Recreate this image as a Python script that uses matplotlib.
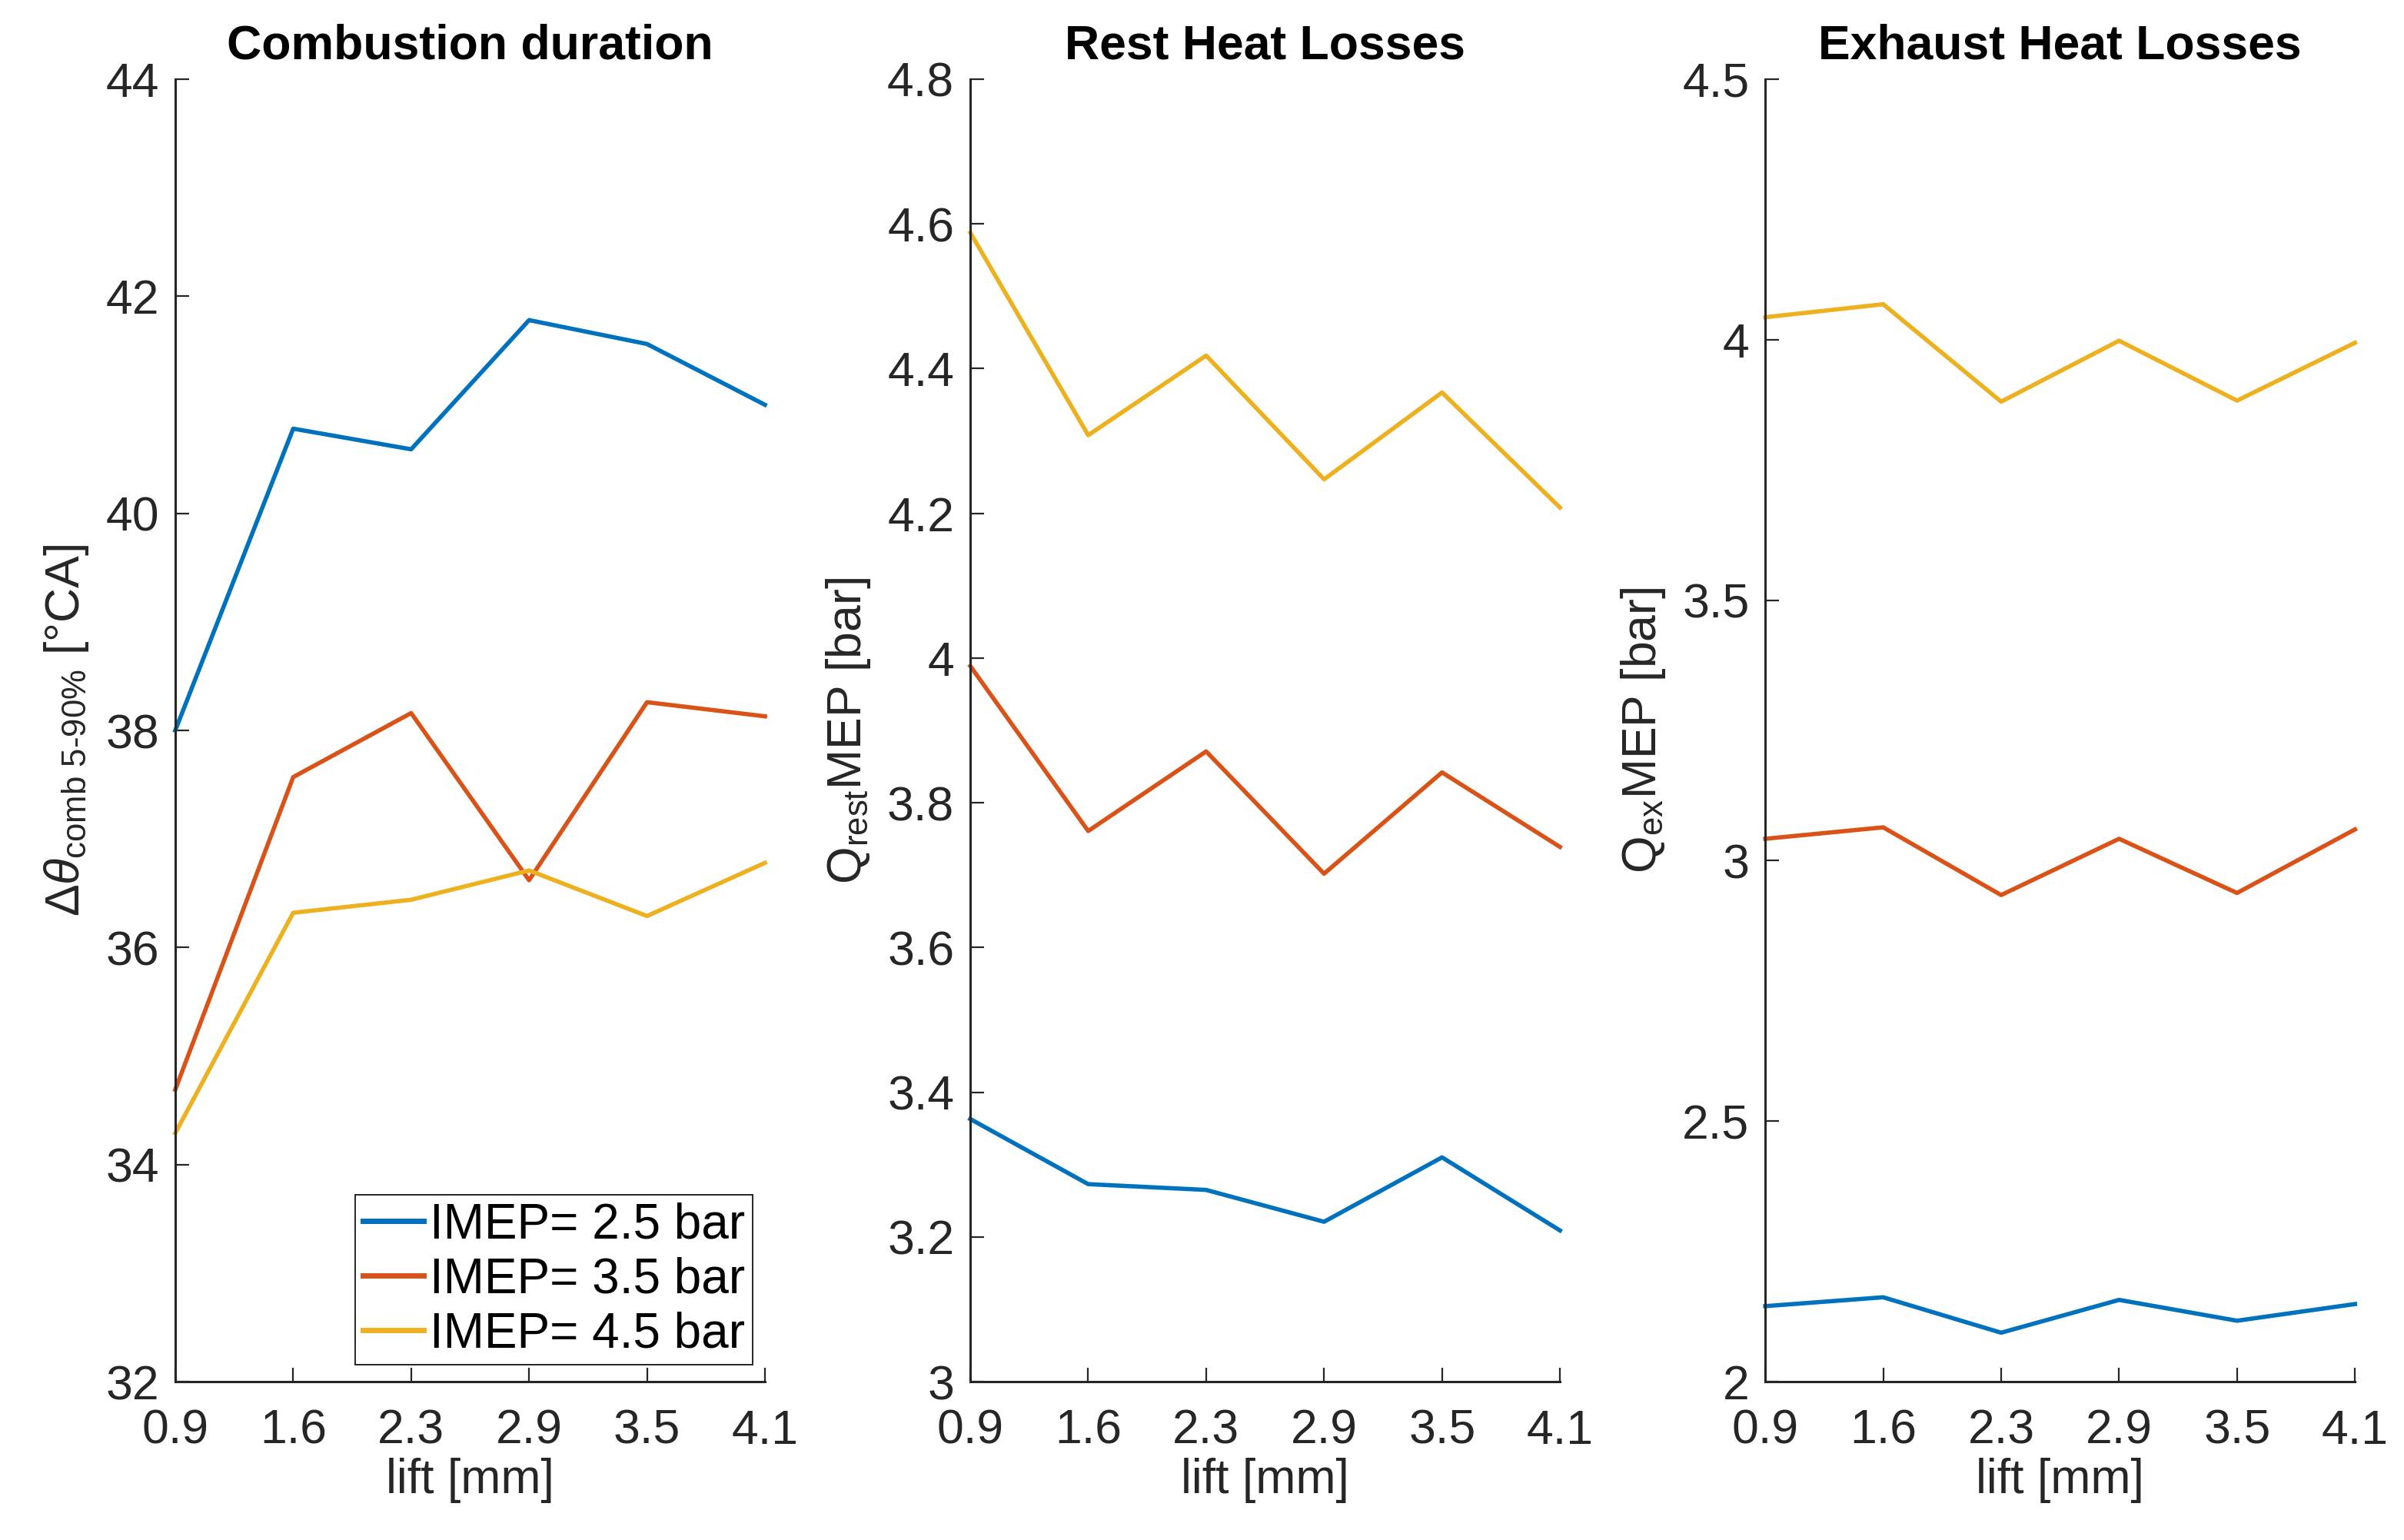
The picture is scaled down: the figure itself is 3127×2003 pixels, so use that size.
import matplotlib
matplotlib.use("Agg")
import matplotlib.pyplot as plt
import numpy as np

plt.rcParams["font.family"] = ["Liberation Sans", "DejaVu Sans"]
plt.rcParams["mathtext.fontset"] = "custom"
plt.rcParams["mathtext.rm"] = "Liberation Sans"
plt.rcParams["mathtext.it"] = "Liberation Sans:italic"

lift_labels = ["0.9", "1.6", "2.3", "2.9", "3.5", "4.1"]
imep_labels = ["IMEP= 2.5 bar", "IMEP= 3.5 bar", "IMEP= 4.5 bar"]
colors = ["#0072BD", "#D95319", "#EDB120"]

# combustion duration [deg CA]
comb_25 = [38.00, 40.78, 40.59, 41.78, 41.56, 41.00]
comb_35 = [34.69, 37.57, 38.16, 36.62, 38.26, 38.13]
comb_45 = [34.29, 36.32, 36.44, 36.71, 36.29, 36.78]

# rest heat losses [bar]
rest_25 = [3.363, 3.273, 3.265, 3.221, 3.310, 3.209]
rest_35 = [3.989, 3.761, 3.871, 3.702, 3.842, 3.739]
rest_45 = [4.588, 4.308, 4.418, 4.247, 4.367, 4.208]

# exhaust heat losses [bar]
ex_25 = [2.145, 2.162, 2.094, 2.157, 2.117, 2.149]
ex_35 = [3.042, 3.064, 2.934, 3.042, 2.938, 3.060]
ex_45 = [4.043, 4.068, 3.881, 3.998, 3.883, 3.994]

x = np.arange(len(lift_labels))
axcol = "#262626"
fs = 22.5

fig = plt.figure(figsize=(15.635, 10.015), dpi=200)
lefts = [0.0729, 0.4036, 0.7343]
axes = [fig.add_axes([l, 0.1028, 0.2453, 0.8458]) for l in lefts]

panels = [
    (comb_25, comb_35, comb_45, "Combustion duration",
     r"$\Delta\theta_{\rm comb\ 5\text{-}90\%}$ [°CA]", (32, 44), np.arange(32, 44.1, 2),
     ["32", "34", "36", "38", "40", "42", "44"]),
    (rest_25, rest_35, rest_45, "Rest Heat Losses",
     r"Q$_{\rm rest}$MEP [bar]", (3, 4.8), np.arange(3, 4.81, 0.2),
     ["3", "3.2", "3.4", "3.6", "3.8", "4", "4.2", "4.4", "4.6", "4.8"]),
    (ex_25, ex_35, ex_45, "Exhaust Heat Losses",
     r"Q$_{\rm ex}$MEP [bar]", (2, 4.5), np.arange(2, 4.51, 0.5),
     ["2", "2.5", "3", "3.5", "4", "4.5"]),
]

for ax, (s1, s2, s3, title, ylab, ylim, yt, ytl) in zip(axes, panels):
    for s, c, lab in zip([s1, s2, s3], colors, imep_labels):
        ax.plot(x, s, color=c, lw=2.0, label=lab, clip_on=False)
    ax.set_xlim(0, len(x) - 1)
    ax.set_ylim(*ylim)
    ax.set_xticks(x)
    ax.set_xticklabels(lift_labels)
    ax.set_yticks(yt)
    ax.set_yticklabels(ytl)
    ax.spines["top"].set_visible(False)
    ax.spines["right"].set_visible(False)
    for sp in ["left", "bottom"]:
        ax.spines[sp].set_color(axcol)
        ax.spines[sp].set_linewidth(1.1)
    ax.tick_params(direction="in", length=6.5, width=0.8, colors=axcol,
                   labelsize=fs)
    ax.tick_params(axis="x", pad=12.5)
    ax.tick_params(axis="y", pad=7.5)
    ax.set_title(title, fontsize=22.5, fontweight="bold", pad=9.5)
    ax.set_xlabel("lift [mm]", fontsize=fs, color=axcol, labelpad=2)
    ax.set_ylabel(ylab, fontsize=fs, color=axcol, labelpad=7)

leg = axes[0].legend(loc="lower right", bbox_to_anchor=(0.979, 0.013),
                     borderaxespad=0, fontsize=23, handlelength=1.24,
                     handletextpad=0.13, labelspacing=0.17, borderpad=0.15,
                     fancybox=False, framealpha=1)
leg.get_frame().set_edgecolor(axcol)
leg.get_frame().set_linewidth(0.7)
for line in leg.get_lines():
    line.set_linewidth(2.5)

fig.savefig("out.png", dpi=200)
